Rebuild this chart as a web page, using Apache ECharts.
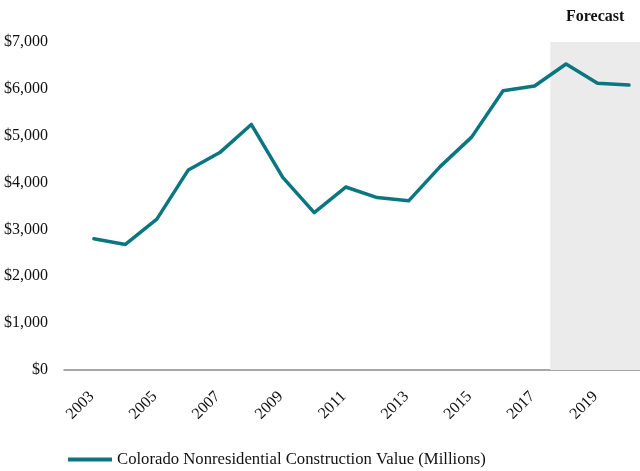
<!DOCTYPE html>
<html>
<head>
<meta charset="utf-8">
<style>
  html, body { margin: 0; padding: 0; background: #fff; }
  #chart { width: 640px; height: 471px; }
</style>
<script src="https://cdn.jsdelivr.net/npm/echarts@6/dist/echarts.min.js"></script>
</head>
<body>
<div id="chart"></div>
<script>
// Colorado nonresidential construction value, millions of dollars
const years = [2003, 2004, 2005, 2006, 2007, 2008, 2009, 2010, 2011, 2012,
               2013, 2014, 2015, 2016, 2017, 2018, 2019, 2020];
const values = [2800, 2680, 3220, 4270, 4640, 5240, 4110, 3360, 3905, 3680,
                3610, 4340, 4970, 5960, 6060, 6530, 6120, 6080];
const yearLabels = [2003, 2005, 2007, 2009, 2011, 2013, 2015, 2017, 2019];
const forecastStart = 2017.5;
const seriesName = 'Colorado Nonresidential Construction Value (Millions)';

const font = '"Liberation Serif", "DejaVu Serif", serif';
const teal = '#0a7680';

const chart = echarts.init(document.getElementById('chart'), null, { renderer: 'canvas' });

chart.setOption({
  animation: false,
  backgroundColor: '#ffffff',
  grid: { left: 64, right: 0, top: 42, bottom: 101, containLabel: false },
  xAxis: {
    type: 'value',
    min: 2002.05,
    max: 2020.35,
    splitLine: { show: false },
    axisLine: { show: true, lineStyle: { color: '#8c8c8c', width: 1.5 } },
    axisTick: { show: false },
    axisLabel: {
      customValues: yearLabels,
      rotate: 45,
      margin: 22,
      padding: [0, 3, 0, 0],
      color: '#111',
      fontFamily: font,
      fontSize: 16,
      formatter: v => String(v)
    }
  },
  yAxis: {
    type: 'value',
    min: 0,
    max: 7000,
    interval: 1000,
    splitLine: { show: false },
    axisLine: { show: false },
    axisTick: { show: false },
    axisLabel: {
      margin: 16,
      color: '#111',
      fontFamily: font,
      fontSize: 16,
      formatter: v => '$' + v.toLocaleString('en-US')
    }
  },
  legend: {
    left: 63,
    top: 446,
    itemWidth: 44,
    itemHeight: 4,
    itemGap: 6,
    textStyle: { fontFamily: font, fontSize: 16.7, color: '#111' },
    data: [{ name: seriesName, icon: 'rect', itemStyle: { color: teal } }]
  },
  series: [{
    name: seriesName,
    type: 'line',
    data: years.map((y, i) => [y, values[i]]),
    symbol: 'none',
    lineStyle: { color: teal, width: 3.5, join: 'round', cap: 'round' },
    itemStyle: { color: teal },
    markArea: {
      silent: true,
      itemStyle: { color: '#ebebeb' },
      label: {
        show: true,
        position: 'top',
        distance: 17,
        color: '#111',
        fontFamily: font,
        fontSize: 16,
        fontWeight: 'bold'
      },
      data: [[
        { name: 'Forecast', xAxis: forecastStart, yAxis: 0 },
        { xAxis: 2020.35, yAxis: 7000 }
      ]]
    },
    z: 3
  }]
});
</script>
</body>
</html>
